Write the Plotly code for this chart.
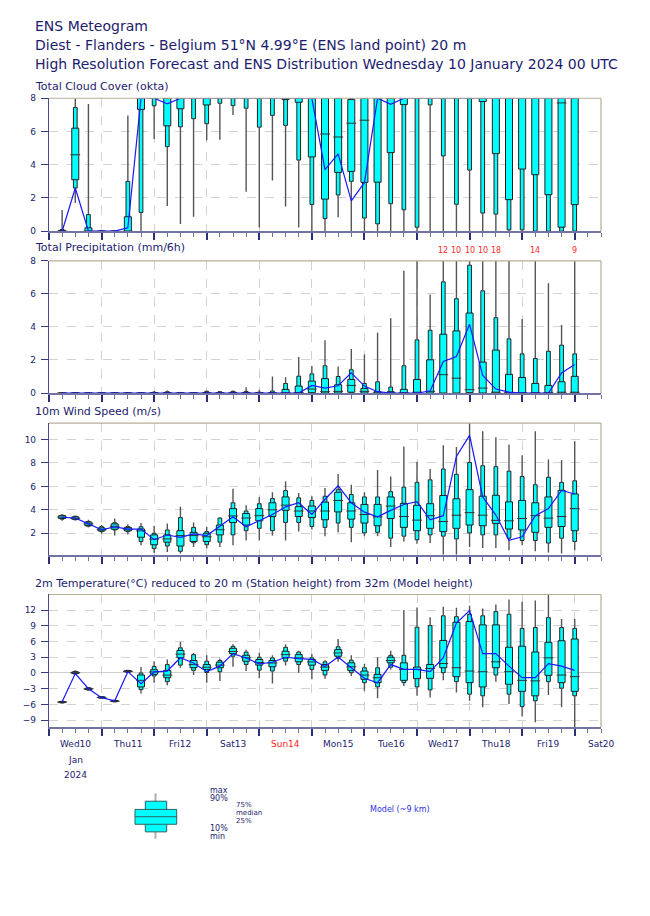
import pandas as pd
import plotly.graph_objects as go

# ---------------- DATA ----------------
times = pd.date_range('2024-01-10 06:00', periods=40, freq='6h')
day_ticks = pd.date_range('2024-01-10 12:00', periods=11, freq='D')
day_labels = ['Wed10', 'Thu11', 'Fri12', 'Sat13', 'Sun14', 'Mon15',
              'Tue16', 'Wed17', 'Thu18', 'Fri19', 'Sat20']
weekend_red = ['Sun14']

# Total cloud cover (okta)
cloud_min = [0, 1.7, 0, 0, 0, 0, 0, 5.55, 1.52, 0.44, 0.87, 5.48, 5.5, 7.0, 2.37, 0.23, 3.05, 1.48, 0.22, 0,
             0, 0.84, 0, 0, 0, 0, 0, 0, 0, 0, 0, 0, 0, 0, 0, 0, 0, 0, 0, 0]
cloud_p10 = [0, 2.6, 0, 0, 0, 0, 1.13, 7.55, 5.09, 6.28, 6.77, 6.47, 7.7, 7.56, 7.4, 6.26, 6.97, 6.37, 4.28, 1.61,
             0.76, 2.18, 3.0, 0.79, 0.44, 1.66, 1.29, 0.24, 7.6, 4.53, 1.62, 3.68, 1.09, 1.03, 0.08, 0.08, 0, 0, 0, 0]
cloud_p25 = [0, 3.1, 0, 0, 0, 0, 7.33, 8, 6.34, 7.37, 8, 7.6, 8, 8, 8, 8, 8, 7.92, 7.76, 4.47,
             1.93, 3.54, 3.6, 2.94, 2.95, 4.73, 7.62, 8, 8, 8, 8, 8, 7.8, 4.67, 1.9, 3.74, 3.4, 2.2, 0.24, 1.6]
cloud_med = [0, 4.6, 0, 0, 0, 0, 8, 8, 8, 8, 8, 8, 8, 8, 8, 8, 8, 8, 8, 8,
             5.85, 5.67, 6.5, 6.68, 8, 8, 8, 8, 8, 8, 8, 8, 8, 8, 8, 8, 8, 8, 7.72, 8]
cloud_p75 = [0.05, 6.2, 0.2, 0, 0, 0.87, 8, 8, 8, 8, 8, 8, 8, 8, 8, 8, 8, 8, 8, 8,
             8, 8, 7.92, 8, 8, 8, 8, 8, 8, 8, 8, 8, 8, 8, 8, 8, 8, 8, 8, 8]
cloud_p90 = [0.1, 7.45, 1.0, 0, 0, 3.0, 8, 8, 8, 8, 8, 8, 8, 8, 8, 8, 8, 8, 8, 8,
             8, 8, 8, 8, 8, 8, 8, 8, 8, 8, 8, 8, 8, 8, 8, 8, 8, 8, 8, 8]
cloud_max = [1.27, 8, 7.66, 0, 0, 6.97, 8, 8, 8, 8, 8, 8, 8, 8, 8, 8, 8, 8, 8, 8,
             8, 8, 8, 8, 8, 8, 8, 8, 8, 8, 8, 8, 8, 8, 8, 8, 8, 8, 8, 8]
cloud_hres = [0, 2.6, 0, 0, 0, 0.2, 8, 8, 7.66, 8, 8, 8, 8, 8, 8, 8, 8, 8, 8, 8,
              3.7, 4.65, 1.82, 2.92, 8, 7.64, 8, 8, 8, 8, 8, 8, 8, 8, 8, 8, 8, 8, 8, 8]

# Total precipitation (mm/6h)
prec_min = [0] * 40
prec_p10 = [0] * 40
prec_p25 = [0, 0, 0, 0, 0, 0, 0, 0, 0, 0, 0, 0, 0, 0, 0, 0, 0, 0, 0, 0.02,
            0, 0, 0.05, 0, 0, 0, 0, 0, 0, 0, 0, 0.02, 0, 0, 0, 0, 0, 0, 0, 0]
prec_med = [0, 0, 0, 0, 0, 0, 0, 0, 0, 0, 0, 0, 0, 0, 0, 0, 0, 0.02, 0.03, 0.24,
            0.08, 0.1, 0.46, 0.1, 0, 0, 0.02, 0.05, 0.1, 1.11, 0.9, 0.2, 0.3, 0.05, 0.02, 0.02, 0.02, 0.02, 0.05, 0.05]
prec_p75 = [0, 0, 0, 0, 0, 0, 0, 0.02, 0.03, 0.01, 0.01, 0.03, 0.03, 0.04, 0.03, 0.02, 0.03, 0.22, 0.42, 0.72,
            0.87, 0.5, 0.82, 0.28, 0.08, 0.08, 0.22, 0.82, 2.01, 3.56, 3.76, 4.84, 1.87, 2.6, 1.13, 0.94, 0.58, 0.46, 0.68, 1.01]
prec_p90 = [0, 0, 0, 0, 0, 0, 0, 0.05, 0.08, 0.03, 0.02, 0.1, 0.08, 0.1, 0.1, 0.05, 0.12, 0.58, 1.02, 1.16,
            1.65, 1.0, 1.41, 0.58, 0.68, 0.36, 1.65, 3.22, 3.8, 6.73, 5.71, 7.74, 6.19, 4.56, 3.28, 2.37, 2.09, 2.53, 2.9, 2.37]
prec_max = [0, 0, 0, 0, 0, 0, 0, 0.12, 0.15, 0.07, 0.05, 0.15, 0.12, 0.15, 0.35, 0.2, 1.0, 0.96, 2.18, 1.64,
            3.2, 1.6, 2.67, 2.33, 3.66, 4.52, 7.4, 8.0, 5.97, 12, 10, 10, 10, 18, 8.0, 4.48, 14, 6.65, 4.12, 9]
prec_hres = [0, 0, 0, 0, 0, 0, 0, 0, 0, 0, 0, 0, 0, 0, 0, 0, 0, 0, 0, 0.46,
             0.3, 0.44, 1.22, 0.42, 0.08, 0, 0, 0, 0.12, 1.91, 2.21, 4.16, 1.07, 0.24, 0.05, 0, 0, 0, 1.21, 1.73]

# 10m wind speed (m/s)
wind_min = [3.06, 3.1, 2.5, 1.95, 1.8, 1.9, 0.97, 0.32, 0.4, 0.27, 0.83, 0.69, 0.83, 0.97, 1.38, 1.38, 1.8, 1.38, 2.14, 2.31,
            1.75, 2.08, 1.24, 1.75, 1.75, 0.83, 1.3, 1.1, 1.16, 0.18, 0.18, 0.83, 0.74, 0.74, 0.55, 0.97, 0.46, 0.35, 0.27, 0.55]
wind_p10 = [3.2, 3.15, 2.6, 2.14, 2.28, 2.14, 1.3, 0.69, 0.91, 0.46, 1.19, 1.02, 1.24, 1.86, 2.22, 2.42, 2.22, 2.92, 2.92, 2.58,
            2.5, 2.87, 2.5, 2.03, 2.08, 1.58, 1.75, 1.44, 1.86, 1.75, 1.52, 2.03, 1.86, 1.86, 1.58, 1.38, 1.38, 1.16, 1.58, 1.3]
wind_p25 = [3.26, 3.2, 2.65, 2.2, 2.35, 2.2, 1.66, 1.02, 1.24, 0.91, 1.3, 1.3, 1.86, 2.92, 2.7, 3.06, 3.43, 3.96, 3.43, 3.34,
            3.15, 3.82, 3.2, 2.87, 2.64, 3.26, 2.5, 2.22, 2.42, 2.14, 2.42, 2.7, 2.64, 2.84, 2.36, 2.28, 2.08, 2.5, 2.58, 2.22]
wind_med = [3.38, 3.28, 2.8, 2.3, 2.6, 2.35, 2.2, 1.5, 1.52, 1.8, 1.8, 1.7, 2.3, 3.48, 3.3, 3.5, 4.0, 4.4, 3.9, 3.9,
            3.9, 4.8, 3.9, 3.6, 3.4, 4.32, 3.43, 3.12, 3.5, 3.0, 3.54, 3.76, 3.54, 3.1, 3.06, 3.26, 3.5, 3.29, 3.43, 4.1]
wind_p75 = [3.5, 3.4, 2.95, 2.45, 2.8, 2.5, 2.36, 1.86, 1.86, 2.22, 2.08, 2.0, 2.7, 4.1, 3.68, 4.1, 4.6, 5.1, 4.27, 4.32,
            4.66, 5.5, 4.6, 4.46, 4.46, 5.1, 4.55, 4.38, 4.52, 5.22, 4.94, 5.72, 5.16, 5.24, 4.68, 4.8, 4.6, 5.1, 5.66, 5.36]
wind_p90 = [3.54, 3.45, 3.0, 2.56, 2.9, 2.56, 2.56, 2.0, 2.28, 3.34, 2.5, 2.14, 3.3, 4.6, 3.9, 4.52, 4.96, 5.64, 5.02, 4.8,
            5.16, 5.72, 5.3, 5.1, 5.1, 5.55, 5.94, 6.34, 6.56, 7.48, 7.03, 8.04, 7.76, 7.68, 7.3, 6.84, 6.14, 6.78, 6.34, 6.48]
wind_max = [3.62, 3.5, 3.15, 2.7, 3.26, 2.76, 2.87, 2.64, 2.84, 4.27, 2.92, 2.56, 3.34, 5.8, 4.38, 5.1, 5.5, 6.42, 5.44, 5.16,
            5.86, 7.06, 6.14, 5.5, 7.4, 6.84, 9.4, 8.1, 7.48, 9.5, 9.36, 11.5, 10.7, 10.2, 9.58, 8.66, 10.7, 8.3, 8.24, 9.86]
wind_hres = [3.35, 3.3, 2.8, 2.3, 2.55, 2.35, 2.35, 1.45, 1.85, 1.65, 1.95, 1.8, 2.6, 3.4, 2.55, 3.1, 3.6, 4.25, 4.6, 3.6,
             4.9, 6.05, 4.6, 3.8, 3.4, 3.95, 4.45, 4.7, 3.15, 3.5, 8.55, 10.35, 5.1, 3.55, 1.4, 1.7, 3.5, 4.1, 5.65, 5.35]

# 2m temperature (degC)
temp_min = [-5.8, -0.26, -3.3, -4.85, -5.55, 0.05, -3.9, -1.84, -2.34, 1.0, -0.39, -1.84, -1.52, 1.18, 0.37, -1.0, -2.0, 1.43, 0.05, -1.2,
            -1.1, 2.13, -0.58, -3.4, -4.8, 0.68, -2.46, -4.35, -4.66, -1.4, -3.72, -5.3, -6.55, -1.65, -5.9, -8.3, -9.4, -4.2, -6.55, -10.3]
temp_p10 = [-5.7, -0.2, -3.25, -4.8, -5.5, 0.1, -3.16, -0.58, -1.65, 1.5, 0.5, 0.1, 0.24, 3.2, 1.6, 0.55, 0.37, 2.25, 1.6, 0.68,
            -0.39, 2.75, 0.05, -1.84, -2.65, 1.12, -1.84, -2.65, -3.22, 0.05, -1.65, -4.04, -4.35, -0.39, -4.04, -6.4, -5.3, -1.65, -2.9, -4.35]
temp_p25 = [-5.65, -0.1, -3.15, -4.75, -5.45, 0.2, -2.65, -0.26, -0.9, 2.9, 1.0, 0.68, 1.0, 3.7, 2.25, 1.5, 1.18, 2.88, 2.13, 1.5,
            0.5, 3.2, 0.49, -1.2, -1.84, 1.94, -1.4, -1.08, -1.02, 1.0, -0.7, -1.84, -2.65, 1.0, -2.15, -3.5, -4.35, -0.45, -1.84, -3.5]
temp_med = [-5.55, 0.05, -3.03, -4.66, -5.36, 0.3, -1.4, 0.2, -0.4, 3.6, 1.6, 1.1, 1.5, 4.1, 2.9, 2.0, 1.9, 3.5, 2.88, 2.1,
            1.12, 3.82, 1.18, -0.4, -0.9, 2.38, 0.68, 0.68, 0.87, 1.8, 1.0, 0.37, 0.24, 2.13, 0.24, -1.4, -1.5, 2.88, -0.39, -0.7]
temp_p75 = [-5.45, 0.2, -2.9, -4.55, -5.25, 0.45, -0.39, 0.62, 0.5, 4.3, 2.38, 1.6, 2.06, 4.7, 3.38, 2.56, 2.38, 4.14, 3.5, 2.56,
            1.62, 4.45, 1.94, 0.37, -0.26, 3.0, 1.94, 1.12, 1.62, 6.2, 9.67, 9.8, 9.17, 9.17, 4.9, 5.1, 4.0, 5.84, 6.15, 6.47]
temp_p90 = [-5.4, 0.3, -2.8, -4.5, -5.2, 0.5, 0.0, 1.25, 1.6, 4.8, 3.5, 2.25, 2.38, 5.08, 4.0, 3.0, 2.88, 4.9, 4.0, 2.88,
            2.13, 5.0, 2.44, 1.0, 1.0, 3.38, 3.38, 8.73, 9.04, 10.9, 10.74, 11.2, 10.9, 11.7, 11.2, 8.5, 8.66, 10.55, 8.66, 8.5]
temp_max = [-5.3, 0.5, -2.75, -4.45, -5.15, 0.55, 1.12, 2.25, 2.56, 5.9, 3.82, 3.38, 2.75, 5.5, 4.45, 3.82, 3.38, 5.5, 4.26, 3.63,
            2.44, 6.47, 3.38, 1.75, 3.0, 4.26, 12.0, 12.5, 10.6, 12.6, 12.44, 12.8, 12.3, 13.07, 14.0, 13.6, 13.8, 14.96, 10.3, 10.3]
temp_hres = [-5.5, -0.1, -3.0, -4.7, -5.3, 0.25, -2.05, 0.2, 0.37, 2.9, 1.9, 0.25, 1.3, 3.7, 2.85, 1.75, 2.05, 3.0, 2.75, 2.6,
             1.25, 3.05, 1.0, -1.0, -1.85, 1.6, 0.68, 0.68, 0.25, 2.9, 9.5, 11.9, 3.7, 3.7, 1.3, -0.9, -0.9, 1.8, 1.3, 0.5]

# ---------------- STYLE / LAYOUT ----------------
W, H = 650, 916
NAVY = '#1c1c6e'
FONT = 'DejaVu Sans'
X0, X1 = 49, 601
panels = [  # (top px, bottom px)
    (94.3, 228.7), (258.7, 392.3), (422.7, 556.0), (596.0, 730.0)]


def px(xp):
    return xp / W


def py(yp):
    return 1 - yp / H


HOUR = 3600 * 1000
WIDE = 3.2 * HOUR
NARROW = 1.7 * HOUR
XR = ['2024-01-10 00:00', '2024-01-20 12:00']

fig = go.Figure()


def add_panel(k, mn, p10, p25, med, p75, p90, mx, hres):
    xa = 'x' if k == 1 else 'x%d' % k
    ya = 'y' if k == 1 else 'y%d' % k
    fig.add_trace(go.Bar(x=times, y=[b - a for a, b in zip(p10, p90)], base=p10, width=NARROW,
                         marker=dict(color='#00ffff', line=dict(color='#202020', width=1)),
                         xaxis=xa, yaxis=ya, showlegend=False, hoverinfo='skip'))
    fig.add_trace(go.Bar(x=times, y=[b - a for a, b in zip(p25, p75)], base=p25, width=WIDE,
                         marker=dict(color='#00ffff', line=dict(color='#202020', width=1)),
                         xaxis=xa, yaxis=ya, showlegend=False, hoverinfo='skip'))
    wx, wy = [], []
    for t, a, b, c, d in zip(times, mn, p10, p90, mx):
        wx += [t, t, None, t, t, None]
        wy += [a, b, None, c, d, None]
    fig.add_trace(go.Scatter(x=wx, y=wy, mode='lines', line=dict(color='#555555', width=1.4),
                             xaxis=xa, yaxis=ya, showlegend=False, hoverinfo='skip'))
    fig.add_trace(go.Scatter(x=times, y=med, mode='markers',
                             marker=dict(symbol='line-ew', size=7, color='#303030',
                                         line=dict(color='#303030', width=1)),
                             xaxis=xa, yaxis=ya, showlegend=False, hoverinfo='skip'))
    fig.add_trace(go.Scatter(x=times, y=hres, mode='lines', line=dict(color='#1818ff', width=1.2),
                             xaxis=xa, yaxis=ya, showlegend=False, hoverinfo='skip'))


add_panel(1, cloud_min, cloud_p10, cloud_p25, cloud_med, cloud_p75, cloud_p90, cloud_max, cloud_hres)
add_panel(2, prec_min, prec_p10, prec_p25, prec_med, prec_p75, prec_p90, prec_max, prec_hres)
add_panel(3, wind_min, wind_p10, wind_p25, wind_med, wind_p75, wind_p90, wind_max, wind_hres)
add_panel(4, temp_min, temp_p10, temp_p25, temp_med, temp_p75, temp_p90, temp_max, temp_hres)

yranges = [[0, 8], [0, 8], [0.15, 11.4], [-10.3, 14.96]]
yticks = [[0, 2, 4, 6, 8], [0, 2, 4, 6, 8], [2, 4, 6, 8, 10], [-9, -6, -3, 0, 3, 6, 9, 12]]

layout = dict(width=W, height=H, autosize=False, margin=dict(l=0, r=0, t=0, b=0),
              paper_bgcolor='white', plot_bgcolor='white', barmode='overlay',
              font=dict(family=FONT, color=NAVY), showlegend=False)
shapes = []
for k, (top, bot) in enumerate(panels, start=1):
    sx = 'xaxis' if k == 1 else 'xaxis%d' % k
    sy = 'yaxis' if k == 1 else 'yaxis%d' % k
    layout[sx] = dict(domain=[px(X0), px(X1)], anchor='y' if k == 1 else 'y%d' % k,
                      type='date', range=XR, tickmode='linear', tick0='2024-01-10', dtick=86400000,
                      ticks='outside', ticklen=7, tickwidth=1.5, tickcolor='#2e2e78',
                      showticklabels=False, showgrid=True, gridcolor='#d2d2d2', griddash='dash',
                      gridwidth=1, showline=True, linecolor='#7373a3', linewidth=2.2,
                      zeroline=False, fixedrange=True,
                      minor=dict(dtick=6 * HOUR, tick0='2024-01-10', ticks='outside', ticklen=4,
                                 tickcolor='#6f6fa5', tickwidth=1, showgrid=False))
    layout[sy] = dict(domain=[py(bot), py(top)], anchor='x' if k == 1 else 'x%d' % k,
                      range=yranges[k - 1], tickvals=yticks[k - 1], ticks='outside', ticklen=7,
                      tickcolor='#3a3a84', tickwidth=1, tickfont=dict(size=9, color=NAVY, family=FONT),
                      ticklabelstandoff=3,
                      showgrid=True, gridcolor='#d2d2d2', griddash='dash', gridwidth=1,
                      showline=True, linecolor='#4a4a8a', linewidth=1.2,
                      zeroline=(k == 4), zerolinecolor='#cfcfcf', zerolinewidth=1, fixedrange=True)
    # top and right frame
    shapes.append(dict(type='line', xref='paper', yref='paper', x0=px(X0), x1=px(X1),
                       y0=py(top), y1=py(top), line=dict(color='#b5ae97', width=1.2)))
    shapes.append(dict(type='line', xref='paper', yref='paper', x0=px(X1), x1=px(X1),
                       y0=py(bot), y1=py(top), line=dict(color='#b5ae97', width=1.2)))

annotations = []


def txt(text, xp, yp, size, color=NAVY, anchor='left'):
    annotations.append(dict(text=text, x=px(xp), y=py(yp), xref='paper', yref='paper',
                            xanchor=anchor, yanchor='middle', showarrow=False,
                            font=dict(family=FONT, size=size, color=color)))


txt('ENS Meteogram', 33, 21, 14)
txt('Diest - Flanders - Belgium 51°N 4.99°E (ENS land point) 20 m', 33, 40.5, 14)
txt('High Resolution Forecast and ENS Distribution Wednesday 10 January 2024 00 UTC', 33, 59.5, 14)
txt('Total Cloud Cover (okta)', 33, 82.5, 11)
txt('Total Precipitation (mm/6h)', 33, 245, 11)
txt('10m Wind Speed (m/s)', 33, 411, 11)
txt('2m Temperature(°C) reduced to 20 m (Station height) from 32m (Model height)', 33, 585, 11)

# day labels below the last panel
for t, lab in zip(day_ticks, day_labels):
    annotations.append(dict(text=lab, x=t, xref='x4', y=py(747), yref='paper', xanchor='center',
                            yanchor='middle', showarrow=False,
                            font=dict(family=FONT, size=9,
                                      color='#ff2020' if lab in weekend_red else NAVY)))
for lab, yp in (('Jan', 763), ('2024', 779)):
    annotations.append(dict(text=lab, x=day_ticks[0], xref='x4', y=py(yp), yref='paper',
                            xanchor='center', yanchor='middle', showarrow=False,
                            font=dict(family=FONT, size=9, color=NAVY)))

# precipitation maxima beyond the axis
for t, v in zip(times, prec_max):
    if v > yranges[1][1] + 0.4:
        annotations.append(dict(text=str(int(round(v))), x=t, xref='x2', y=py(248), yref='paper',
                                xanchor='center', yanchor='middle', showarrow=False,
                                font=dict(family=FONT, size=8, color='#ff2a2a')))

# key
shapes.append(dict(type='line', xref='paper', yref='paper', x0=px(155.5), x1=px(155.5),
                   y0=py(843), y1=py(797), line=dict(color='#b0b0b0', width=2)))
shapes.append(dict(type='rect', xref='paper', yref='paper', x0=px(145.3), x1=px(166.7),
                   y0=py(836), y1=py(805), fillcolor='#00ffff', line=dict(color='#2f6060', width=1)))
shapes.append(dict(type='rect', xref='paper', yref='paper', x0=px(135), x1=px(176.7),
                   y0=py(828.3), y1=py(813.3), fillcolor='#00ffff', line=dict(color='#2f6060', width=1)))
shapes.append(dict(type='line', xref='paper', yref='paper', x0=px(135), x1=px(176.7),
                   y0=py(820.7), y1=py(820.7), line=dict(color='#2f6060', width=1)))
txt('max', 208, 794, 8)
txt('90%', 208, 802, 8)
txt('75%', 234, 808.4, 7)
txt('median', 234, 816.7, 7)
txt('25%', 234, 825.0, 7)
txt('10%', 208, 832.7, 8)
txt('min', 208, 841, 8)
txt('Model (~9 km)', 368, 813.3, 8, color='#3030e0')

layout['shapes'] = shapes
layout['annotations'] = annotations
fig.update_layout(**layout)
fig.write_html('out.html', config={'displayModeBar': False},
               post_script="document.body.style.margin='0px';document.body.style.padding='0px';")
